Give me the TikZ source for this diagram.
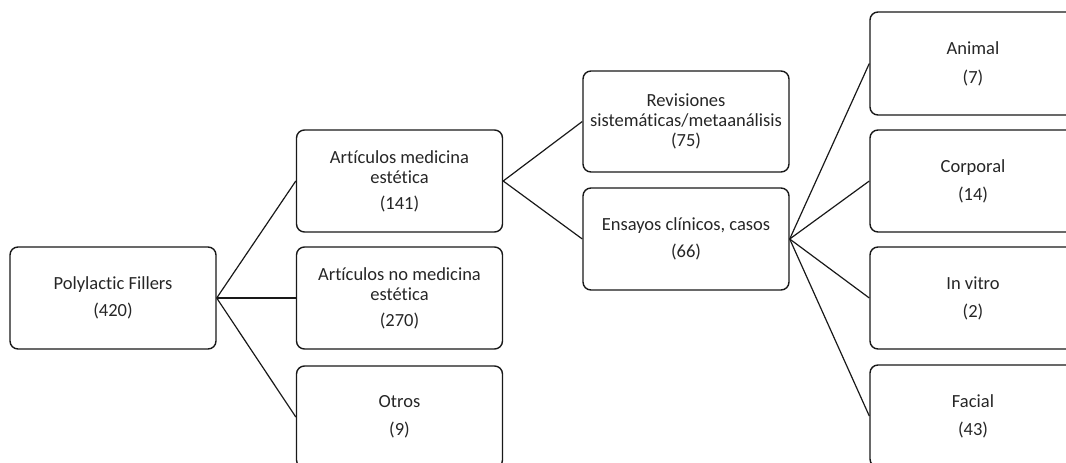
\documentclass[tikz,border=0pt]{standalone}
\usepackage{fontspec}
\setmainfont[Ligatures=NoCommon]{Carlito}
\begin{document}
\begin{tikzpicture}[x=1pt,y=-1pt,
  box/.style={draw=black!90, rounded corners=8pt, line width=1.4pt,
    minimum width=206pt, minimum height=102pt, align=center, inner sep=0pt,
    text=black!85, font=\fontsize{18.5}{20}\selectfont},
  link/.style={draw=black!90, line width=1.2pt}]
\useasboundingbox (0,0) rectangle (1066,463);
\clip (0,0) rectangle (1066,463);
\node[box] (poly) at (113,298) {Polylactic Fillers\\[7pt](420)};
\node[box] (am) at (399.5,181) {Artículos medicina\\estética\\[6pt](141)};
\node[box] (anm) at (399.5,298) {Artículos no medicina\\estética\\[6pt](270)};
\node[box] (otros) at (399.5,417) {Otros\\[8pt](9)};
\node[box, minimum height=101pt] (rev) at (686,121.5) {Revisiones\\sistemáticas/metaanálisis\\(75)};
\node[box] (ens) at (686,239) {Ensayos clínicos, casos\\[7pt](66)};
\node[box, minimum height=103pt] (animal) at (973,63.5) {Animal\\[9pt](7)};
\node[box] (corp) at (973,181) {Corporal\\[8pt](14)};
\node[box] (vitro) at (973,298) {In vitro\\[8pt](2)};
\node[box] (facial) at (973,416) {Facial\\[8pt](43)};
\draw[link] (poly.east) -- (am.west);
\draw[link] (poly.east) -- (anm.west);
\draw[link] (poly.east) -- (otros.west);
\draw[link] (am.east) -- (rev.west);
\draw[link] (am.east) -- (ens.west);
\draw[link] (ens.east) -- (animal.west);
\draw[link] (ens.east) -- (corp.west);
\draw[link] (ens.east) -- (vitro.west);
\draw[link] (ens.east) -- (facial.west);
\end{tikzpicture}
\end{document}
